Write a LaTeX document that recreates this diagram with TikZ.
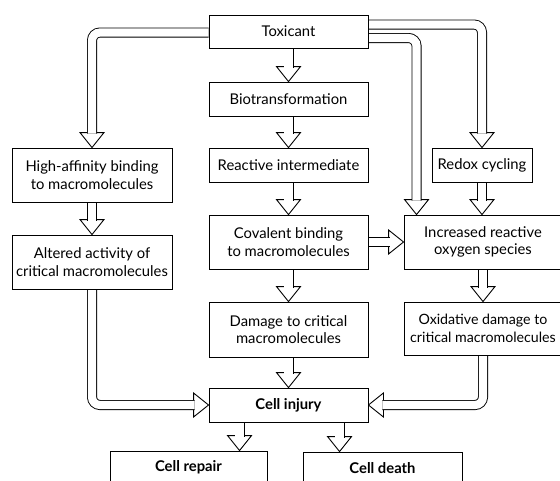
\documentclass[tikz,border=0pt]{standalone}
\usepackage{fontspec}
\setmainfont{Lato}
\usetikzlibrary{calc}
\pgfdeclarelayer{bg}
\pgfsetlayers{bg,main}
\tikzset{
  box/.style={draw, line width=0.9pt, fill=white, inner sep=0pt, align=center, font=\fontsize{14.8}{17.5}\selectfont},
  shaft/.style={draw, line width=0.9pt, double=white, double distance=8.2pt, rounded corners=8pt},
  head/.style={draw, line width=0.9pt, fill=white, line join=miter},
}
\newcommand{\headD}[1]{\path[head] (#1) -- ++(-12,-15) -- ++(24,0) -- cycle;}
\newcommand{\headR}[1]{\path[head] (#1) -- ++(-15,-12) -- ++(0,24) -- cycle;}
\newcommand{\headL}[1]{\path[head] (#1) -- ++(15,-12) -- ++(0,24) -- cycle;}
\begin{document}
\begin{tikzpicture}[x=1pt,y=-1pt]
\useasboundingbox (0,0) rectangle (560,480);
\clip (0,0) rectangle (560,480);
% boxes
\node[box, minimum width=159, minimum height=33] (tox) at (288.5,31.5) {Toxicant};
\node[box, minimum width=159, minimum height=34] (bio) at (288.5,99) {Biotransformation};
\node[box, minimum width=159, minimum height=34] (react) at (288.5,165) {Reactive intermediate};
\node[box, minimum width=159, minimum height=54] (cov) at (288.5,242) {Covalent binding\\to macromolecules};
\node[box, minimum width=159, minimum height=55] (dam) at (288.5,329.5) {Damage to critical\\macromolecules};
\node[box, minimum width=159, minimum height=34] (inj) at (288.5,405) {\bfseries Cell injury};
\node[box, minimum width=160, minimum height=54] (high) at (92,175) {High-affinity binding\\to macromolecules};
\node[box, minimum width=160, minimum height=54] (alt) at (92,262) {Altered activity of\\critical macromolecules};
\node[box, minimum width=100, minimum height=34] (redox) at (482,165) {Redox cycling};
\node[box, minimum width=158, minimum height=54] (ros) at (483,242) {Increased reactive\\oxygen species};
\node[box, minimum width=158, minimum height=53, font=\fontsize{14.2}{17.5}\selectfont] (oxid) at (483,328.5) {Oxidative damage to\\critical macromolecules};
\node[box, minimum width=157, minimum height=33] (repair) at (188.5,467.5) {\bfseries Cell repair};
\node[box, minimum width=159, minimum height=33] (death) at (382.5,468.5) {\bfseries Cell death};
% arrows
\begin{pgfonlayer}{bg}
% straight down
\headD{bio.north}
\draw[shaft] (tox.south) -- ($(bio.north)+(0,-14)$);
\headD{react.north}
\draw[shaft] (bio.south) -- ($(react.north)+(0,-14)$);
\headD{cov.north}
\draw[shaft] (react.south) -- ($(cov.north)+(0,-14)$);
\headD{dam.north}
\draw[shaft] (cov.south) -- ($(dam.north)+(0,-14)$);
\headD{inj.north}
\draw[shaft] (dam.south) -- ($(inj.north)+(0,-14)$);
\headD{alt.north}
\draw[shaft] (high.south) -- ($(alt.north)+(0,-14)$);
\headD{redox.south |- ros.north}
\draw[shaft] (redox.south) -- ($(redox.south |- ros.north)+(0,-14)$);
\headD{oxid.north}
\draw[shaft] (ros.south) -- ($(oxid.north)+(0,-14)$);
% from toxicant, bent
\headD{high.north}
\draw[shaft] ([yshift=-1pt]tox.west) -| ($(high.north)+(0,-14)$);
\headD{redox.north}
\draw[shaft] ([yshift=7pt]tox.east) -| ($(redox.north)+(0,-14)$);
\headD{$(ros.north west)+(13,0)$}
\draw[shaft] ([yshift=-6.5pt]tox.east) -| ($(ros.north west)+(13,-14)$);
% covalent -> ROS
\headR{ros.west}
\draw[shaft] (cov.east) -- ($(ros.west)+(-14,0)$);
% into cell injury
\headR{inj.west}
\draw[shaft] (alt.south) |- ($(inj.west)+(-14,0)$);
\headL{inj.east}
\draw[shaft] (oxid.south) |- ($(inj.east)+(14,0)$);
% out of cell injury
\headD{$(repair.north west)+(130,0)$}
\draw[shaft] ($(inj.south west)+(31,0)$) -- ($(repair.north west)+(130,-14)$);
\headD{$(death.north west)+(37,0)$}
\draw[shaft] ($(inj.south west)+(131,0)$) -- ($(death.north west)+(37,-14)$);
\end{pgfonlayer}
\end{tikzpicture}
\end{document}
